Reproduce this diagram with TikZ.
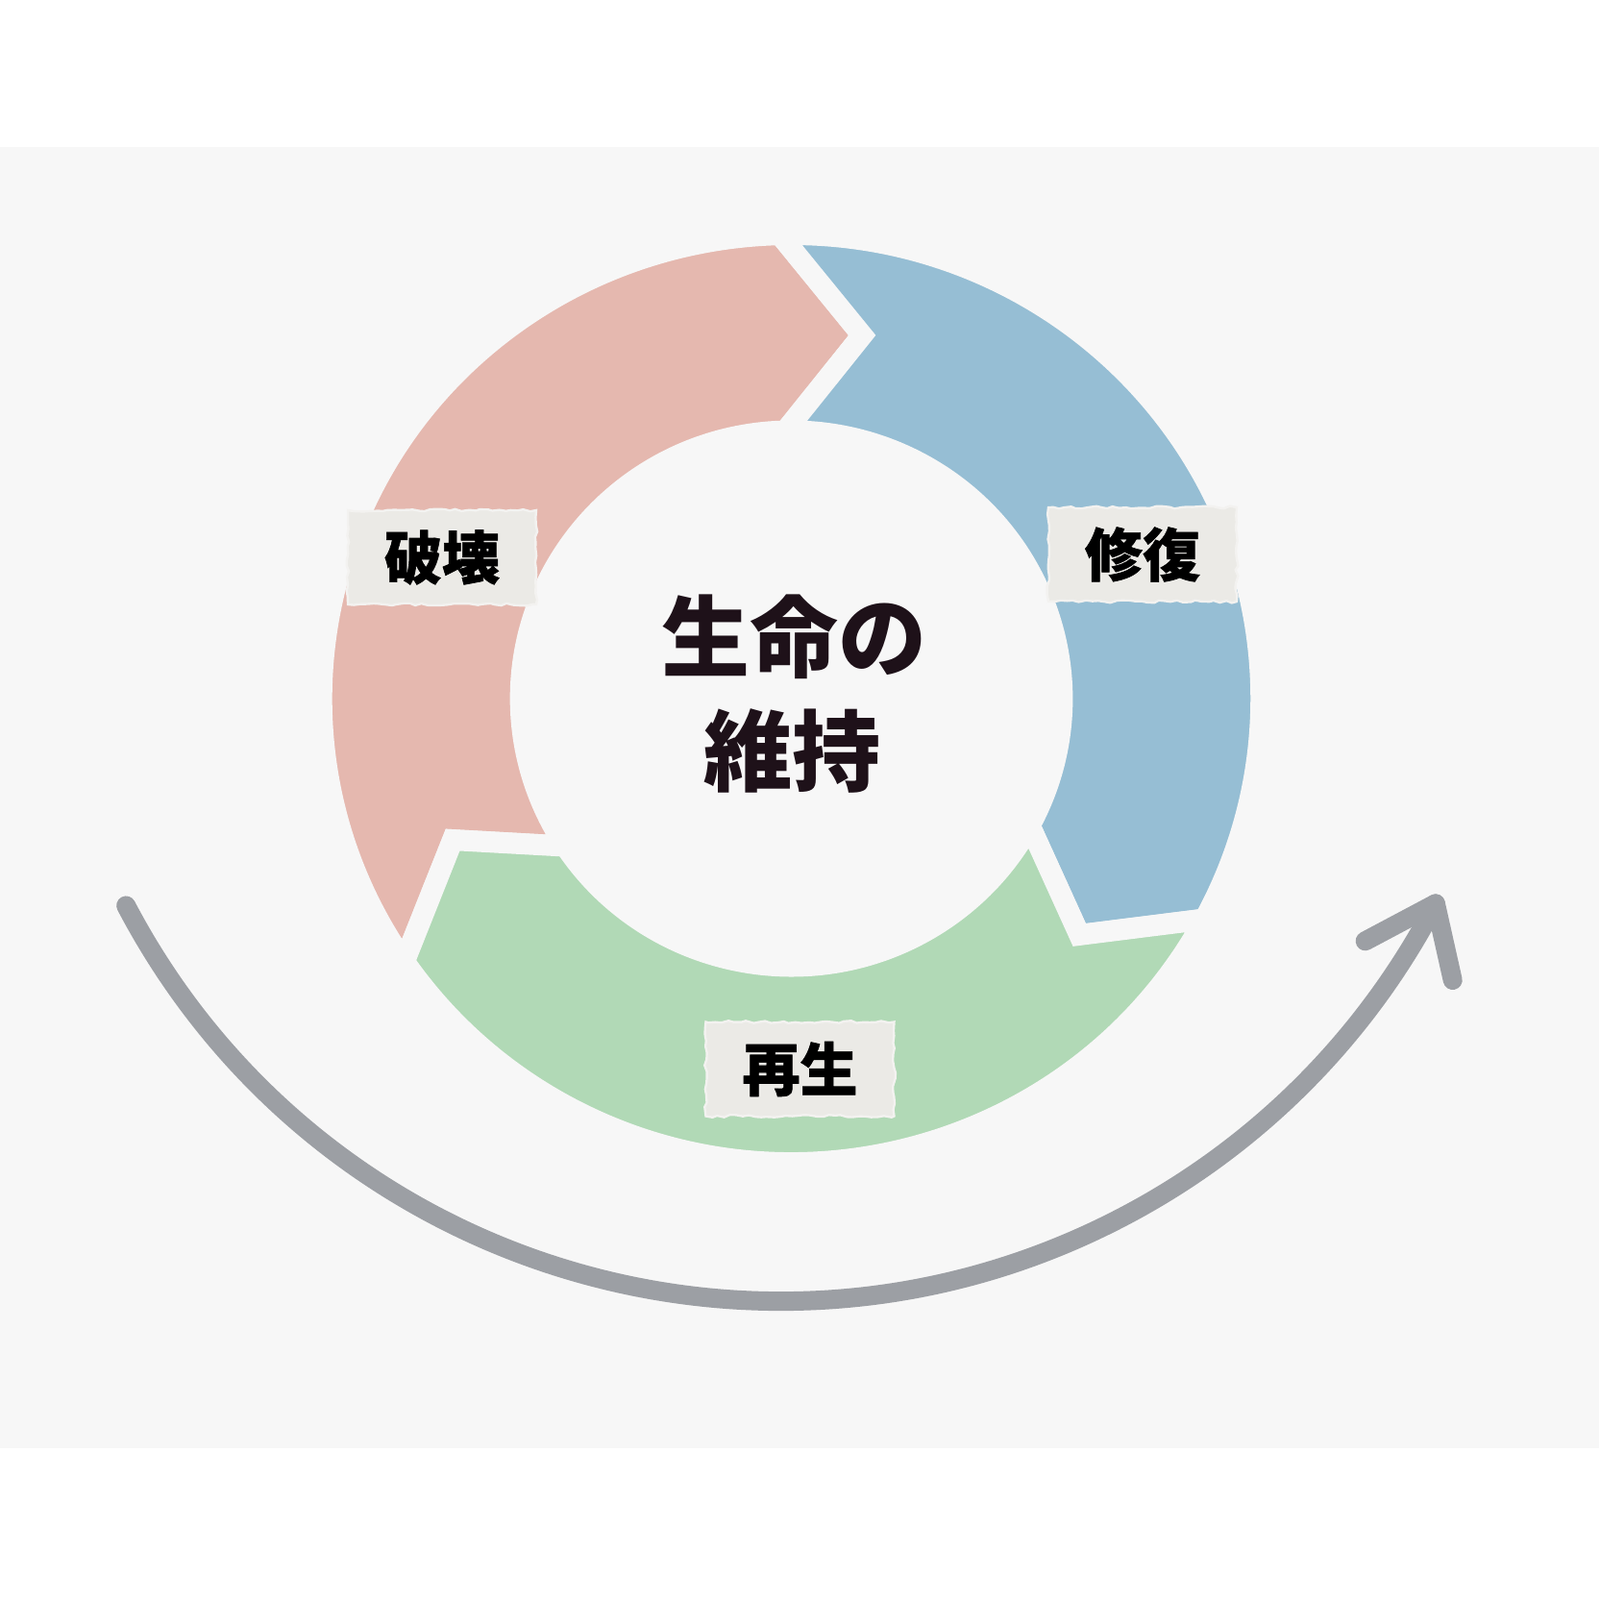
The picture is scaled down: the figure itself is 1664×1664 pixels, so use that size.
\documentclass[tikz,border=0pt]{standalone}
\usepackage{fontspec}
\usetikzlibrary{decorations.pathmorphing,calc}
\newfontfamily\cjk{Noto Sans CJK JP}
\newfontfamily\cjklab{Noto Sans CJK JP}[BoldFeatures={FakeBold=1}]
\definecolor{bgpaper}{HTML}{F7F7F7}
\definecolor{segred}{HTML}{E5B8AF}
\definecolor{segblue}{HTML}{96BED4}
\definecolor{seggreen}{HTML}{B1D9B6}
\definecolor{arrowgray}{HTML}{9C9FA4}
\definecolor{tagpaper}{HTML}{EBEAE6}
\definecolor{centerink}{HTML}{1E1119}
\begin{document}
\begin{tikzpicture}[x=0.25pt,y=0.25pt,
  seg/.style={draw=bgpaper, line width=5.5pt, line join=miter},
  tag/.style={fill=tagpaper, draw=white!40!tagpaper, line width=0.6pt,
    minimum width=49pt, minimum height=24.5pt, inner sep=0pt,
    decorate, decoration={random steps, segment length=1.6pt, amplitude=0.35pt},
    font=\cjklab\bfseries\fontsize{15pt}{18pt}\selectfont, text=black},
  centertext/.style={font=\cjk\bfseries\fontsize{23pt}{28pt}\selectfont, text=centerink, inner sep=0pt},
  bigarrow/.style={draw=arrowgray, line width=5pt, line cap=round, line join=round}]
\useasboundingbox (0,0) rectangle (1664,1664);
\fill[white] (0,0) rectangle (1664,1664);
\fill[bgpaper] (0,157) rectangle (1664,1511);

\def\ringRo{483}
\def\ringRi{278.5}
\def\tipRa{385}
\def\tipRb{385}
\def\tipRc{378}
\begin{scope}[shift={(823.5,937)}, xscale=1.012]
  \path[fill=segred, seg] (214.52:\ringRo) arc[start angle=214.52, end angle=91.38, radius=\ringRo]
    -- (79.1:\tipRa) -- (91.26:\ringRi) arc[start angle=91.26, end angle=213.47, radius=\ringRi]
    -- (202.9:\tipRc) -- cycle;
  \path[fill=segblue, seg] (91.38:\ringRo) arc[start angle=91.38, end angle=-28.38, radius=\ringRo]
    -- (-39.7:\tipRb) -- (-28.33:\ringRi) arc[start angle=-28.33, end angle=91.26, radius=\ringRi]
    -- (79.1:\tipRa) -- cycle;
  \path[fill=seggreen, seg] (-28.38:\ringRo) arc[start angle=-28.38, end angle=-145.48, radius=\ringRo]
    -- (-157.1:\tipRc) -- (-146.53:\ringRi) arc[start angle=-146.53, end angle=-28.33, radius=\ringRi]
    -- (-39.7:\tipRb) -- cycle;
\end{scope}

\node[centertext] (life) at (826,1001) {生命の};
\node[centertext] (keep) at (824,883) {維持};

\node[tag] (hakai) at (460,1084) {破壊};
\node[tag] (shufuku) at (1189,1087) {修復};
\node[tag] (saisei) at (832.5,551.5) {再生};

\coordinate (arccenter) at (812,1079);
\coordinate (arcstart) at ($(arccenter)+(207.7:769)$);
\draw[bigarrow] (arcstart) arc[start angle=207.7, end angle=332.47, radius=769] coordinate (tip);
\coordinate (barbA) at (1420.7,684.7);
\coordinate (barbB) at (1511.7,644);
\draw[bigarrow] (barbA) -- (tip) -- (barbB);
\end{tikzpicture}
\end{document}
